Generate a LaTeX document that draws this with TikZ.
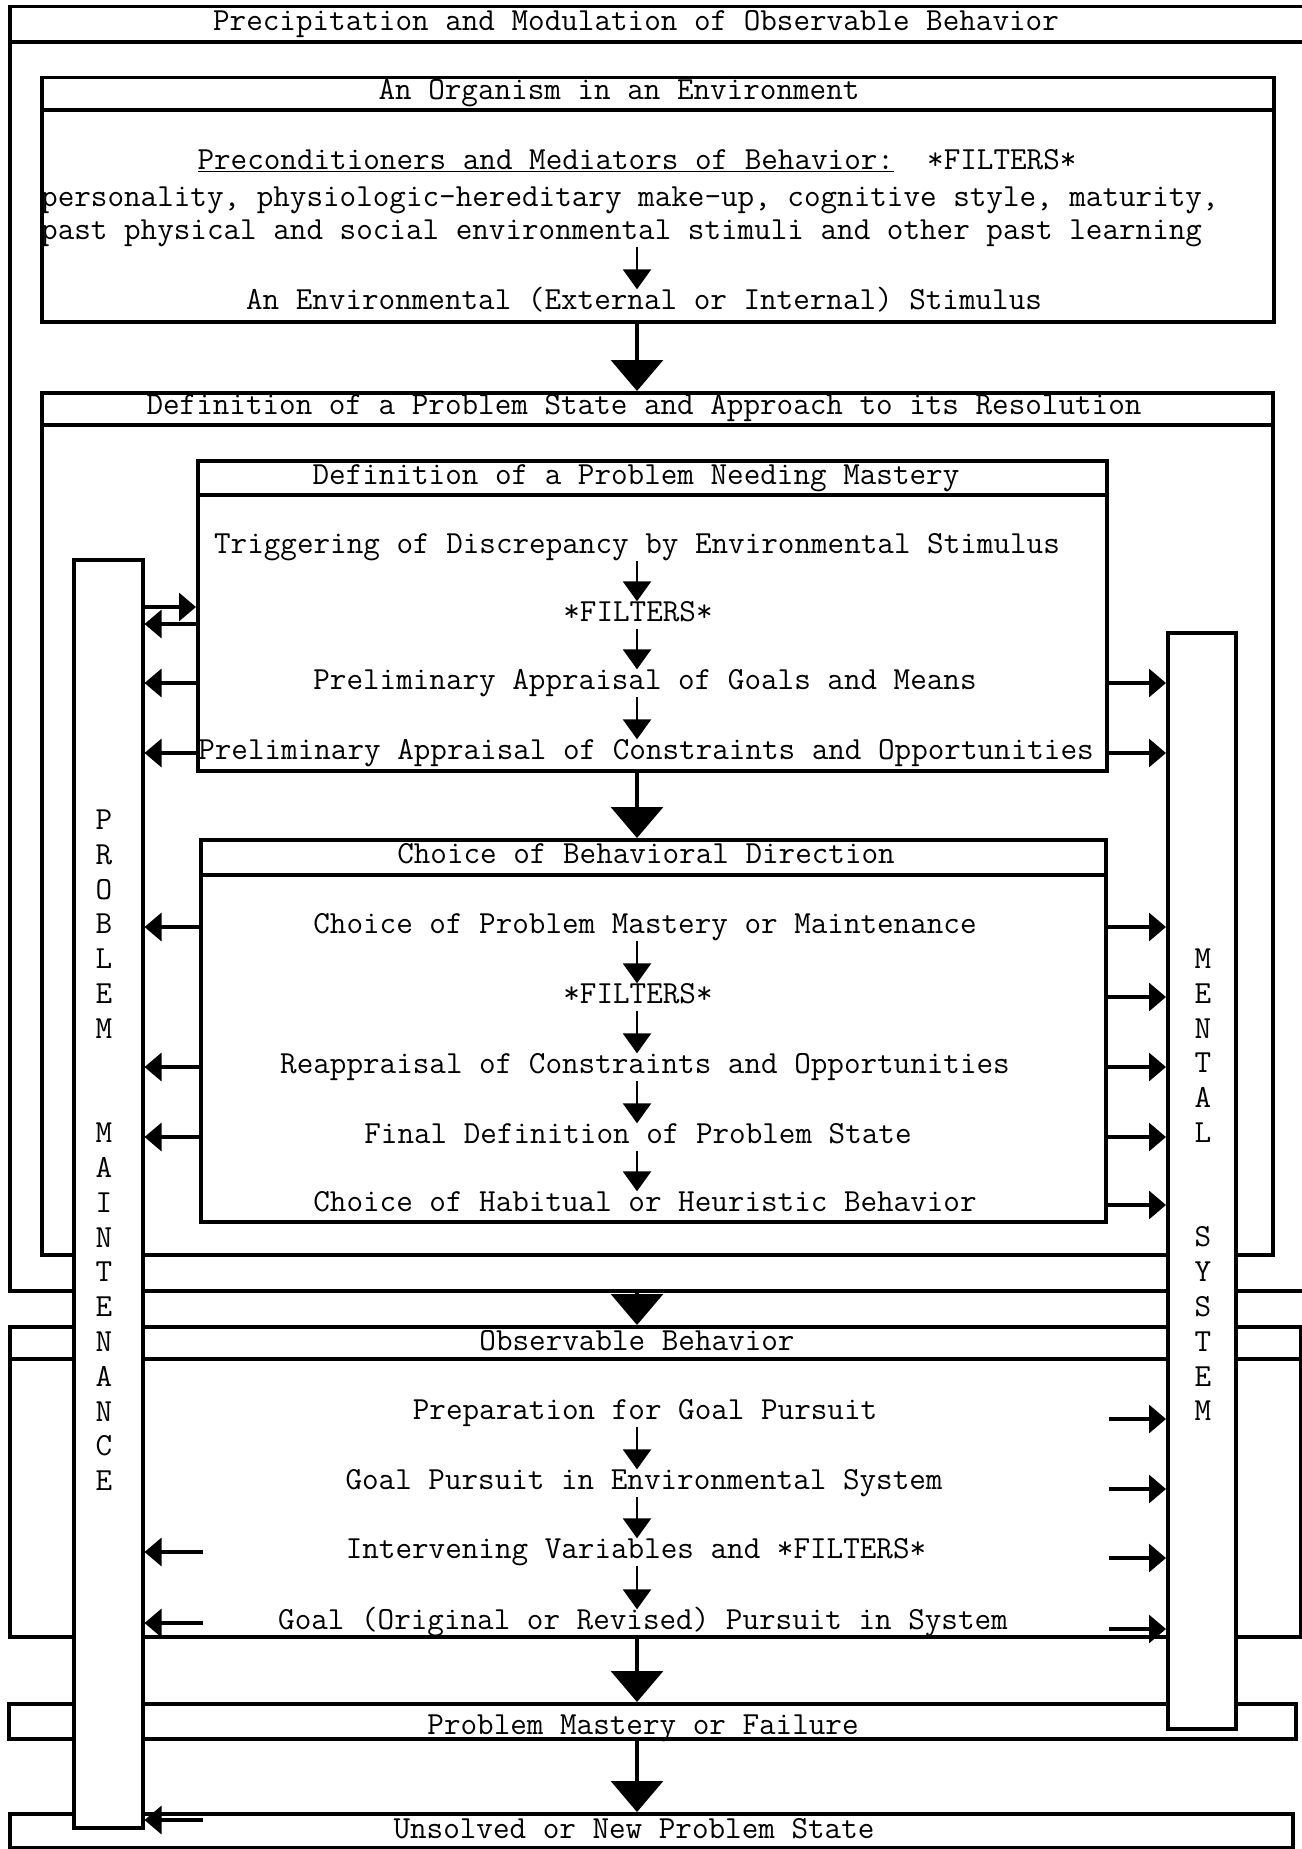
\documentclass[tikz,border=0pt]{standalone}
\usetikzlibrary{arrows.meta,calc}
\newcommand{\twfont}{\fontsize{32.2}{36}\selectfont\ttfamily}
\tikzset{
  frame/.style={draw, line width=3.5pt, inner sep=0pt, anchor=north west},
  column/.style={draw, line width=3.5pt, fill=white, inner sep=0pt, anchor=north west},
  txt/.style={font=\twfont, inner sep=0pt, text height=20pt, text depth=7pt},
  flow/.style={line width=2.6pt, -{Triangle[length=20pt,width=28pt]}},
  side/.style={line width=3.2pt, -{Triangle[length=17pt,width=28pt]}},
  big/.style={line width=3.2pt, -{Triangle[length=31pt,width=52pt]}},
}
\begin{document}
\begin{tikzpicture}[x=1pt,y=1pt,yscale=-1,xscale=1]
\useasboundingbox (0,0) rectangle (1301,1849);
\coordinate (axis) at (637,0);
%Shape: Rectangle [outer]
\node[frame, minimum width=1294pt, minimum height=1284pt] (outer) at (8,5) {};
\draw[line width=3.5pt] (outer.west |- 0,42) -- (outer.east |- 0,42);
%Shape: Rectangle [organism]
\node[frame, minimum width=1232pt, minimum height=244pt] (org) at (40,76) {};
\draw[line width=3.5pt] (org.west |- 0,110) -- (org.east |- 0,110);
%Shape: Rectangle [problem state]
\node[frame, minimum width=1231pt, minimum height=862pt] (dps) at (40,391) {};
\draw[line width=3.5pt] (dps.west |- 0,425) -- (dps.east |- 0,425);
%Shape: Rectangle [needing mastery]
\node[frame, minimum width=909pt, minimum height=310pt] (dpnm) at (196,459) {};
\draw[line width=3.5pt] (dpnm.west |- 0,495) -- (dpnm.east |- 0,495);
%Shape: Rectangle [behavioral direction]
\node[frame, minimum width=905pt, minimum height=382pt] (cbd) at (199,838) {};
\draw[line width=3.5pt] (cbd.west |- 0,875) -- (cbd.east |- 0,875);
%Shape: Rectangle [observable behavior]
\node[frame, minimum width=1291pt, minimum height=310pt] (ob) at (8,1325) {};
\draw[line width=3.5pt] (ob.west |- 0,1359) -- (ob.east |- 0,1359);
%Shape: Rectangle [mastery or failure]
\node[frame, minimum width=1287pt, minimum height=35pt] (pmf) at (7,1702) {};
%Shape: Rectangle [new problem state]
\node[frame, minimum width=1283pt, minimum height=34pt] (unps) at (8,1812) {};

% Text Node
\node[txt] (ttlouter) at (636,24) {Precipitation and Modulation of Observable Behavior};
% Text Node
\node[txt] (ttlorg) at (619,93) {An Organism in an Environment};
\node[txt] (prec) at (637,163) {\underline{Preconditioners and Mediators of Behavior:}\ \ *FILTERS*};
\node[txt, anchor=west] (pers) at (41,200) {personality, physiologic-hereditary make-up, cognitive style, maturity,};
\node[txt, anchor=west] (past) at (41,233) {past physical and social environmental stimuli and other past learning};
\node[txt] (stim) at (644,303) {An Environmental (External or Internal) Stimulus};
% Text Node
\node[txt] (ttldps) at (644,408) {Definition of a Problem State and Approach to its Resolution};
% Text Node
\node[txt] (ttldpnm) at (636,478) {Definition of a Problem Needing Mastery};
\node[txt] (trig) at (637,547) {Triggering of Discrepancy by Environmental Stimulus};
\node[txt] (filt1) at (638,615) {*FILTERS*};
\node[txt] (goals) at (645,683) {Preliminary Appraisal of Goals and Means};
\node[txt] (cons) at (646,753) {Preliminary Appraisal of Constraints and Opportunities};
% Text Node
\node[txt] (ttlcbd) at (646,857) {Choice of Behavioral Direction};
\node[txt] (mast) at (645,927) {Choice of Problem Mastery or Maintenance};
\node[txt] (filt2) at (638,997) {*FILTERS*};
\node[txt] (reap) at (645,1067) {Reappraisal of Constraints and Opportunities};
\node[txt] (final) at (638,1137) {Final Definition of Problem State};
\node[txt] (habit) at (645,1205) {Choice of Habitual or Heuristic Behavior};
% Text Node
\node[txt] (ttlob) at (637,1344) {Observable Behavior};
\node[txt] (prep) at (645,1413) {Preparation for Goal Pursuit};
\node[txt] (gpes) at (644,1483) {Goal Pursuit in Environmental System};
\node[txt] (ivf) at (636,1552) {Intervening Variables and *FILTERS*};
\node[txt] (orig) at (643,1623) {Goal (Original or Revised) Pursuit in System};
% Text Node
\node[txt] (pmftxt) at (643,1728) {Problem Mastery or Failure};
% Text Node
\node[txt] (unpstxt) at (634,1832) {Unsolved or New Problem State};

%Straight Lines [steps]
\draw[flow] (past.south -| axis) -- (stim.north -| axis);
\draw[flow] (trig.south -| axis) -- (filt1.north -| axis);
\draw[flow] (filt1.south -| axis) -- (goals.north -| axis);
\draw[flow] (goals.south -| axis) -- (cons.north -| axis);
\draw[flow] (mast.south -| axis) -- (filt2.north -| axis);
\draw[flow] (filt2.south -| axis) -- (reap.north -| axis);
\draw[flow] (reap.south -| axis) -- (final.north -| axis);
\draw[flow] (final.south -| axis) -- (habit.north -| axis);
\draw[flow] (prep.south -| axis) -- (gpes.north -| axis);
\draw[flow] (gpes.south -| axis) -- (ivf.north -| axis);
\draw[flow] (ivf.south -| axis) -- (orig.north -| axis);
%Straight Lines [stages]
\draw[big] (org.south -| axis) -- (dps.north -| axis);
\draw[big] (dpnm.south -| axis) -- (cbd.north -| axis);
\draw[big] (outer.south -| axis) -- (ob.north -| axis);
\draw[big] (ob.south -| axis) -- (pmf.north -| axis);
\draw[big] (pmf.south -| axis) -- (unps.north -| axis);

%Shape: Rectangle [side columns]
\node[column, minimum width=69pt, minimum height=1268pt] (pm) at (72,558) {};
\node[column, minimum width=68pt, minimum height=1096pt] (ms) at (1166,631) {};
\foreach \ch [count=\i from 0] in {P,R,O,B,L,E,M}
  \node[txt] (pa\i) at (104,{823+34.8*\i}) {\ch};
\foreach \ch [count=\i from 9] in {M,A,I,N,T,E,N,A,N,C,E}
  \node[txt] (pb\i) at (104,{823+34.8*\i}) {\ch};
\foreach \ch [count=\i from 0] in {M,E,N,T,A,L}
  \node[txt] (ma\i) at (1203,{962+34.8*\i}) {\ch};
\foreach \ch [count=\i from 8] in {S,Y,S,T,E,M}
  \node[txt] (mb\i) at (1203,{962+34.8*\i}) {\ch};

%Straight Lines [to the columns]
\coordinate (t1) at ($(filt1)+(0,-8)$);
\coordinate (t2) at ($(filt1)+(0,9)$);
\draw[side] (pm.east |- t1) -- (dpnm.west |- t1);
\draw[side] (dpnm.west |- t2) -- (pm.east |- t2);
\foreach \t in {goals,cons}
  \draw[side] (dpnm.west |- \t) -- (pm.east |- \t);
\foreach \t in {goals,cons}
  \draw[side] (dpnm.east |- \t) -- (ms.west |- \t);
\foreach \t in {mast,reap,final}
  \draw[side] (cbd.west |- \t) -- (pm.east |- \t);
\foreach \t in {mast,filt2,reap,final,habit}
  \draw[side] (cbd.east |- \t) -- (ms.west |- \t);
\coordinate (obr) at (1109,0);
\coordinate (obl) at (203,0);
\foreach \t in {prep,gpes,ivf,orig}
  \draw[side] ($(obr |- \t)+(0,6)$) -- ($(ms.west |- \t)+(0,6)$);
\foreach \t in {ivf,orig}
  \draw[side] (obl |- \t) -- (pm.east |- \t);
\draw[side] ($(obl |- unpstxt)+(0,-12)$) -- ($(pm.east |- unpstxt)+(0,-12)$);
\end{tikzpicture}
\end{document}
